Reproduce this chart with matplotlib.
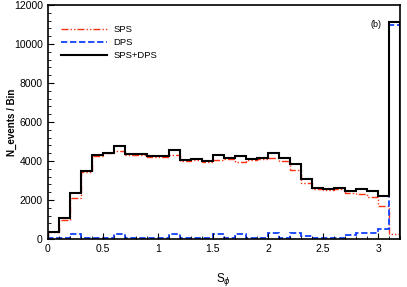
import numpy as np
import matplotlib.pyplot as plt
from matplotlib.ticker import MultipleLocator

plt.rcParams['font.family'] = ['Liberation Sans', 'DejaVu Sans']

# bin edges 0 .. 3.2, width 0.1
edges = np.linspace(0, 3.2, 33)

sps = [340, 1000, 2120, 3440, 4260, 4390, 4500, 4320, 4300, 4220,
       4220, 4310, 4020, 4050, 3970, 4050, 4090, 3950, 4050, 4090,
       4150, 4020, 3540, 2860, 2550, 2530, 2550, 2340, 2300, 2170,
       1710, 240]
dps = [30, 50, 250, 70, 70, 70, 250, 70, 70, 70,
       70, 250, 60, 60, 60, 250, 70, 250, 60, 70,
       290, 80, 290, 150, 30, 30, 80, 190, 320, 320,
       510, 11000]
total = [370, 1060, 2360, 3500, 4310, 4430, 4770, 4370, 4370, 4270,
         4250, 4560, 4050, 4100, 4000, 4300, 4170, 4250, 4100, 4170,
         4410, 4140, 3850, 3060, 2630, 2570, 2630, 2480, 2560, 2460,
         2220, 11150]

fig = plt.figure(figsize=(4.07, 2.87), dpi=100)
ax = fig.add_axes([0.117, 0.167, 0.8665, 0.8156])

ax.stairs(sps, edges, color='#ff3010', lw=1.0, ls=(0, (5, 1.5, 1, 1.5, 1, 1.5)), label='SPS')
ax.stairs(dps, edges, color='#1040ff', lw=1.3, ls=(0, (3.5, 1.5)), label='DPS')
ax.stairs(total, edges, color='black', lw=1.5, label='SPS+DPS')

ax.set_xlim(0, 3.2)
ax.set_ylim(0, 12000)
ax.xaxis.set_major_locator(MultipleLocator(0.5))
ax.xaxis.set_minor_locator(MultipleLocator(0.1))
ax.yaxis.set_major_locator(MultipleLocator(2000))
ax.yaxis.set_minor_locator(MultipleLocator(400))
ax.set_xticks([0, 0.5, 1, 1.5, 2, 2.5, 3])
ax.set_xticklabels(['0', '0.5', '1', '1.5', '2', '2.5', '3'])
ax.tick_params(which='both', direction='in', labelsize=7.5)
ax.tick_params(which='major', length=4)
ax.tick_params(which='minor', length=2)
for s in ax.spines.values():
    s.set_linewidth(1.2)

ax.set_xlabel(r'S$_\phi$', fontsize=8.5)
ax.xaxis.set_label_coords(0.5, -0.135)
ax.set_ylabel('N_events / Bin', fontsize=7, fontweight='bold')
ax.yaxis.set_label_coords(-0.088, 0.5)
ax.text(0.915, 0.915, '(b)', transform=ax.transAxes, fontsize=6.5, va='center')

ax.legend(loc='upper left', bbox_to_anchor=(0.015, 0.95), frameon=False,
          fontsize=6.8, handlelength=4.8, handletextpad=0.7, labelspacing=0.42)

fig.savefig('out.png', dpi=100)
